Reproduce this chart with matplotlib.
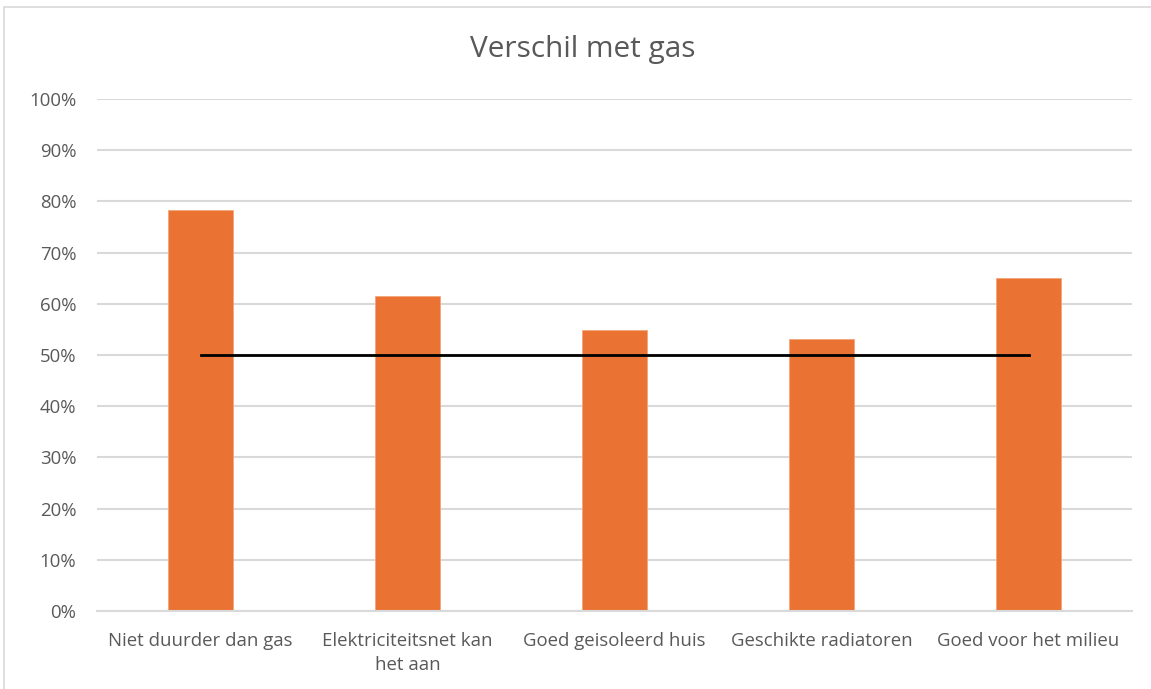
import matplotlib
matplotlib.use("Agg")
import matplotlib.pyplot as plt
from matplotlib.patches import Rectangle
from matplotlib.ticker import PercentFormatter

categories = [
    "Niet duurder dan gas",
    "Elektriciteitsnet kan\nhet aan",
    "Goed geisoleerd huis",
    "Geschikte radiatoren",
    "Goed voor het milieu",
]
shares = [0.783, 0.615, 0.549, 0.532, 0.650]
reference = [0.5] * len(categories)

plt.rcParams["font.family"] = ["Open Sans", "DejaVu Sans"]

fig = plt.figure(figsize=(11.51, 6.89), dpi=100)
ax = fig.add_axes([0.0843, 0.1132, 0.8992, 0.7431])

# outer chart border
fig.patches.append(Rectangle((0.0035, -0.01), 1.0, 1.0, transform=fig.transFigure,
                             fill=False, edgecolor="#d9d9d9", lw=1.2))

x = range(len(categories))
ax.bar(x, shares, width=0.31, color="#ea7233", edgecolor="#f4a57a", linewidth=0.6, zorder=2)
ax.plot(x, reference, color="black", lw=2, zorder=3)

ax.set_xlim(-0.5, len(categories) - 0.5)
ax.set_ylim(0, 1)
ax.set_yticks([i / 10 for i in range(11)])
ax.yaxis.set_major_formatter(PercentFormatter(1.0, decimals=0))
ax.grid(axis="y", color="#d9d9d9", lw=1.5, zorder=0)
ax.set_axisbelow(True)

for s in ["top", "right", "left"]:
    ax.spines[s].set_visible(False)
ax.spines["bottom"].set_color("#d9d9d9")
ax.spines["bottom"].set_linewidth(1.5)

ax.set_xticks(list(x))
ax.set_xticklabels(categories, fontsize=13.4, color="#595959", linespacing=1.45)
ax.tick_params(axis="y", labelsize=13.4, labelcolor="#595959", length=0, pad=15)
ax.tick_params(axis="x", length=0, pad=15)

fig.text(0.506, 0.928, "Verschil met gas", ha="center", va="center", fontsize=21.4, color="#595959")

fig.savefig("out.png", dpi=100)
